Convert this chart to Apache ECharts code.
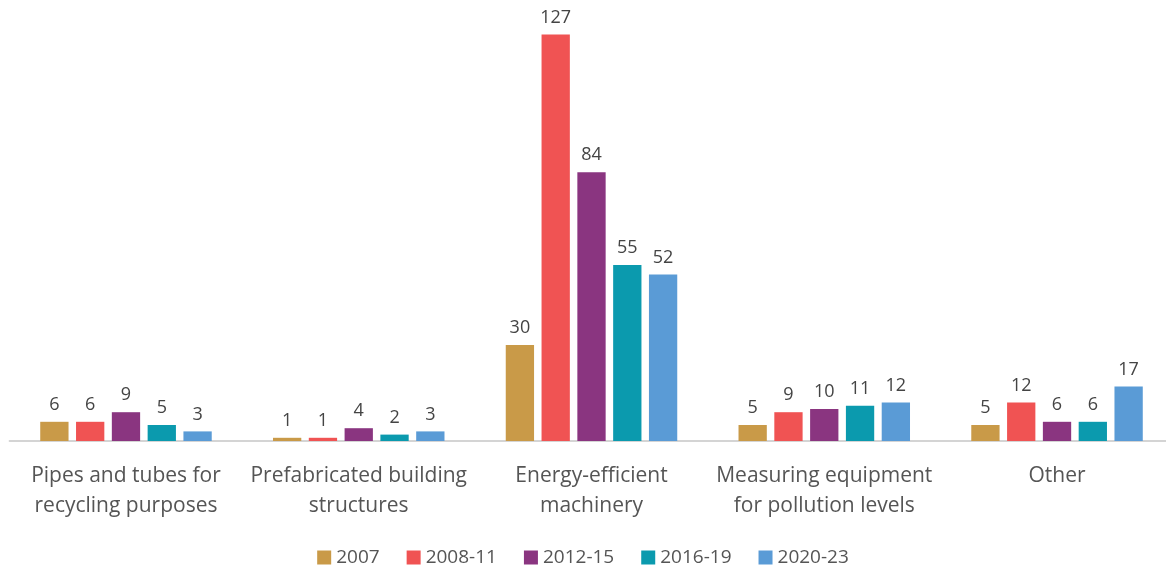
<!DOCTYPE html>
<html>
<head>
<meta charset="utf-8">
<script src="https://cdn.jsdelivr.net/npm/echarts@6/dist/echarts.min.js"></script>
<style>
  html, body { margin: 0; padding: 0; background: #fff; }
  #chart { width: 1166px; height: 571px; }
</style>
</head>
<body>
<div id="chart"></div>
<script>
// Product categories along the x axis
const categories = [
  'Pipes and tubes for\nrecycling purposes',
  'Prefabricated building\nstructures',
  'Energy-efficient\nmachinery',
  'Measuring equipment\nfor pollution levels',
  'Other'
];

// Period names shown in the legend
const periods = ['2007', '2008-11', '2012-15', '2016-19', '2020-23'];

// Values per period, one entry per category
const v2007   = [6, 1, 30, 5, 5];
const v200811 = [6, 1, 127, 9, 12];
const v201215 = [9, 4, 84, 10, 6];
const v201619 = [5, 2, 55, 11, 6];
const v202023 = [3, 3, 52, 12, 17];

const seriesValues = [v2007, v200811, v201215, v201619, v202023];
const colors = ['#C99A48', '#F05353', '#8A3580', '#0B9AAE', '#5A9BD6'];

const fontFamily = '"Open Sans", Lato, sans-serif';

const chart = echarts.init(document.getElementById('chart'), null, { renderer: 'canvas' });

chart.setOption({
  animation: false,
  color: colors,
  textStyle: { fontFamily: fontFamily },
  // plot area runs slightly past the right edge so the last group sits near it
  grid: {
    left: 9.6, width: 1163.8, top: 25, bottom: 130,
    containLabel: false, outerBoundsMode: 'none'
  },
  legend: {
    bottom: 4,
    left: 'center',
    padding: 0,
    itemWidth: 14,
    itemHeight: 14,
    itemGap: 27,
    icon: 'rect',
    textStyle: { fontSize: 19, color: '#555', fontFamily: fontFamily },
    data: periods
  },
  xAxis: {
    type: 'category',
    data: categories,
    axisLine: { lineStyle: { color: '#d4d4d4', width: 2 } },
    axisTick: { show: false },
    axisLabel: {
      fontSize: 21,
      color: '#555',
      lineHeight: 30,
      margin: 20,
      interval: 0,
      fontFamily: fontFamily
    }
  },
  yAxis: {
    type: 'value',
    min: 0,
    max: 130,
    show: false,
    splitLine: { show: false }
  },
  series: periods.map((name, i) => ({
    name: name,
    type: 'bar',
    data: seriesValues[i],
    barWidth: 28.3,
    barGap: '26.5%',
    label: {
      show: true,
      position: 'top',
      distance: 8,
      fontSize: 18,
      color: '#444',
      fontFamily: fontFamily
    }
  }))
});
</script>
</body>
</html>
